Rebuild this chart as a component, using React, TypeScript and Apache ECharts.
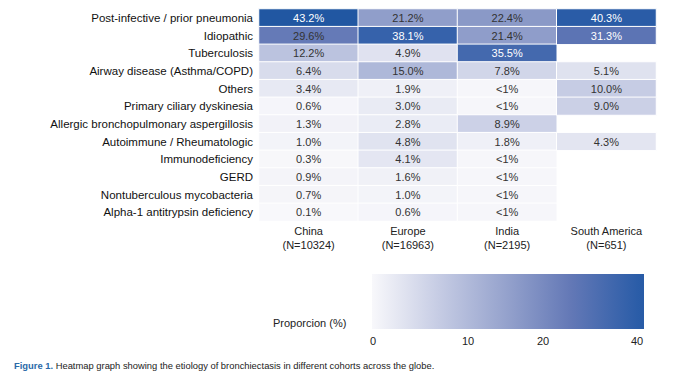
import React, { useEffect, useRef } from "react";
import * as echarts from "echarts";

const etiologies = [
  "Post-infective / prior pneumonia",
  "Idiopathic",
  "Tuberculosis",
  "Airway disease (Asthma/COPD)",
  "Others",
  "Primary ciliary dyskinesia",
  "Allergic bronchopulmonary aspergillosis",
  "Autoimmune / Rheumatologic",
  "Immunodeficiency",
  "GERD",
  "Nontuberculous mycobacteria",
  "Alpha-1 antitrypsin deficiency",
];

const cohorts = ["China\n(N=10324)", "Europe\n(N=16963)", "India\n(N=2195)", "South America\n(N=651)"];

const china: (number | string | null)[] = [43.2, 29.6, 12.2, 6.4, 3.4, 0.6, 1.3, 1.0, 0.3, 0.9, 0.7, 0.1];
const europe: (number | string | null)[] = [21.2, 38.1, 4.9, 15.0, 1.9, 3.0, 2.8, 4.8, 4.1, 1.6, 1.0, 0.6];
const india: (number | string | null)[] = [22.4, 21.4, 35.5, 7.8, "<1", "<1", 8.9, 1.8, "<1", "<1", "<1", "<1"];
const southAmerica: (number | string | null)[] = [40.3, 31.3, null, 5.1, 10.0, 9.0, null, 4.3, null, null, null, null];

const legendTicks = ["0", "10", "20", "40"];

const colorStops = ["#f8f8fb", "#c6cce4", "#96a3cd", "#6378b6", "#2b5da8", "#0c4a94"];
const FONT = "Liberation Sans";

export default function App() {
  const ref = useRef<HTMLDivElement>(null);
  useEffect(() => {
    document.body.style.margin = "0";
    const chart = echarts.init(ref.current!, undefined, { renderer: "svg" });
    const columns = [china, europe, india, southAmerica];
    const data: any[] = [];
    columns.forEach((col, ci) => {
      col.forEach((v, ri) => {
        if (v === null) return;
        const num = typeof v === "string" ? 0.5 : v;
        const label = (typeof v === "string" ? v : v.toFixed(1)) + "%";
        data.push({
          value: [ci, ri, num],
          label: { formatter: label, color: num > 30 ? "#ffffff" : "#333333" },
        });
      });
    });

    const barX0 = 372;
    const barX1 = 644;
    const tickX = [373, 468, 543, 637];

    chart.setOption({
      animation: false,
      backgroundColor: "#ffffff",
      textStyle: { fontFamily: FONT },
      grid: { left: 259, top: 9, width: 397, height: 212 },
      xAxis: {
        type: "category",
        data: cohorts,
        position: "bottom",
        axisLine: { show: false },
        axisTick: { show: false },
        splitLine: { show: false },
        axisLabel: { fontSize: 11, color: "#222", fontFamily: FONT, lineHeight: 14, margin: 3 },
      },
      yAxis: {
        type: "category",
        data: etiologies,
        inverse: true,
        axisLine: { show: false },
        axisTick: { show: false },
        splitLine: { show: false },
        axisLabel: { fontSize: 11.5, color: "#111", fontFamily: FONT, margin: 6 },
      },
      visualMap: {
        show: false,
        type: "continuous",
        min: 0,
        max: 50,
        dimension: 2,
        inRange: { color: colorStops },
      },
      series: [
        {
          type: "heatmap",
          data,
          label: { show: true, fontSize: 11, fontFamily: FONT },
          itemStyle: { borderColor: "#ffffff", borderWidth: 1 },
        },
      ],
      graphic: [
        {
          type: "rect",
          shape: { x: barX0, y: 274, width: barX1 - barX0, height: 55 },
          style: {
            fill: new echarts.graphic.LinearGradient(
              0, 0, 1, 0,
              colorStops.slice(0, 5).map((c, i) => ({ offset: Math.min(1, (i * 10) / 41), color: c }))
                .concat([{ offset: 1, color: "#285ba6" }])
            ),
          },
        },
        {
          type: "text",
          x: 273,
          y: 323,
          style: { text: "Proporcion (%)", fontSize: 11, fill: "#222", fontFamily: FONT, textVerticalAlign: "middle" },
        },
        ...legendTicks.map((t, i) => ({
          type: "text",
          x: tickX[i],
          y: 341,
          style: { text: t, fontSize: 11, fill: "#222", fontFamily: FONT, textAlign: "center", textVerticalAlign: "middle" },
        })),
        {
          type: "text",
          x: 14,
          y: 365,
          style: {
            text: "{b|Figure 1.} Heatmap graph showing the etiology of bronchiectasis in different cohorts across the globe.",
            fontSize: 9.4,
            fill: "#222",
            fontFamily: FONT,
            textVerticalAlign: "middle",
            rich: { b: { fontWeight: "bold", fill: "#2a6aa8", fontSize: 9.4, fontFamily: FONT } },
          },
        },
      ],
    });
    return () => chart.dispose();
  }, []);
  return <div ref={ref} style={{ width: 677, height: 379 }} />;
}
